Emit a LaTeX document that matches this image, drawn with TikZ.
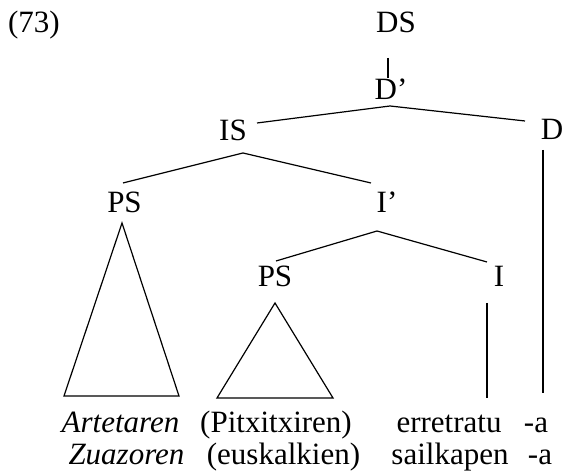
\documentclass[tikz,border=0pt]{standalone}
\usepackage{fontspec}
\setmainfont{Liberation Serif}
\begin{document}
\begin{tikzpicture}[x=0.5pt,y=-0.5pt,
  lbl/.style={anchor=base,inner sep=0pt,outer sep=0pt,font=\fontsize{15.5pt}{18pt}\selectfont},
  edge/.style={line width=0.6pt,line join=miter}]
\useasboundingbox (0,0) rectangle (569,474);
% labels
\node[lbl] (ex) at (34,33) {(73)};
\node[lbl] (ds) at (396,33) {DS};
\node[lbl] (dbar) at (391,100) {D’};
\node[lbl] (is) at (233,141) {IS};
\node[lbl] (d) at (552,140) {D};
\node[lbl] (ps1) at (124.5,213) {PS};
\node[lbl] (ibar) at (387,213) {I’};
\node[lbl] (ps2) at (275,287) {PS};
\node[lbl] (i) at (499,287) {I};
% bottom words
\node[lbl] (w1) at (120.5,433) {\itshape Artetaren};
\node[lbl] (w2) at (276,433) {(Pitxitxiren)};
\node[lbl] (w3) at (449,433) {erretratu};
\node[lbl] (w4) at (536,433) {-a};
\node[lbl] (v1) at (126.5,465) {\itshape Zuazoren};
\node[lbl] (v2) at (283.5,465) {(euskalkien)};
\node[lbl] (v3) at (450,465) {sailkapen};
\node[lbl] (v4) at (540,465) {-a};
% connector points
\coordinate (dsB) at (388,58);
\coordinate (dbarT) at (388,78);
\coordinate (dbarB) at (390,106);
\coordinate (isT) at (257,123);
\coordinate (dT) at (525,121);
\coordinate (isB) at (243,153);
\coordinate (ps1T) at (123,183);
\coordinate (ibarT) at (371,183);
\coordinate (t1a) at (122,223);
\coordinate (t1b) at (64,396);
\coordinate (t1c) at (179,396);
\coordinate (ibarB) at (377,231);
\coordinate (ps2T) at (276,261);
\coordinate (iT) at (487,262);
\coordinate (t2a) at (275,303);
\coordinate (t2b) at (217,398);
\coordinate (t2c) at (333,398);
\coordinate (iB) at (487,303);
\coordinate (w3T) at (487,398);
\coordinate (dB) at (543,150);
\coordinate (w4T) at (543,393);
% connectors
\draw[edge] (dsB) -- (dbarT);
\draw[edge] (isT) -- (dbarB) -- (dT);
\draw[edge] (ps1T) -- (isB) -- (ibarT);
\draw[edge] (t1a) -- (t1b) -- (t1c) -- cycle;
\draw[edge] (ps2T) -- (ibarB) -- (iT);
\draw[edge] (t2a) -- (t2b) -- (t2c) -- cycle;
\draw[edge] (iB) -- (w3T);
\draw[edge] (dB) -- (w4T);
\end{tikzpicture}
\end{document}
